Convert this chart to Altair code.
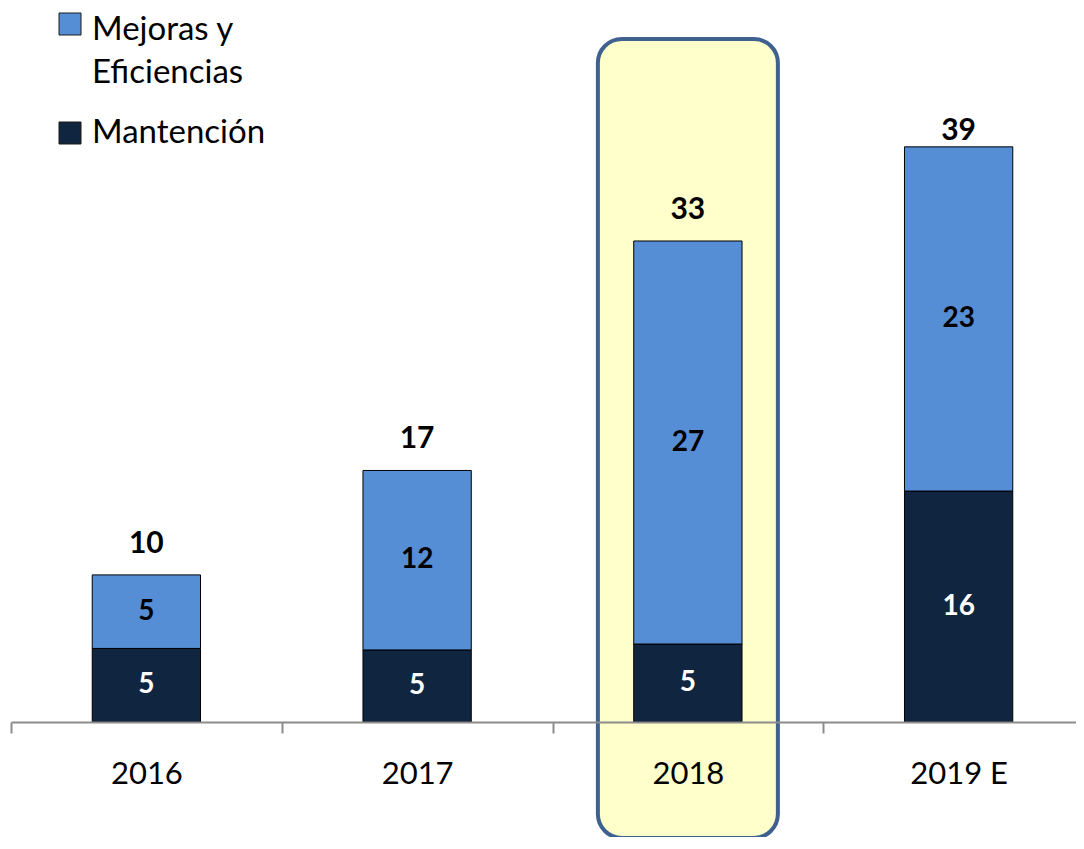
import altair as alt
import pandas as pd

# ---- data ----
years = ["2016", "2017", "2018", "2019 E"]
mantencion = [5.0, 4.9, 5.3, 15.7]
mejoras = [5.0, 12.2, 27.4, 23.4]
series = ["Mantención", "Mejoras y Eficiencias"]
legend_lines = [["Mejoras y", "Eficiencias"], ["Mantención"]]
highlight_years = ["2018"]

bar_colors = ["#10253F", "#558ED5"]
label_colors = ["#FFFFFF", "#000000"]

rows = []
for i, yr in enumerate(years):
    base = 0.0
    for s, vals in zip(series, [mantencion, mejoras]):
        v = vals[i]
        rows.append(dict(year=yr, serie=s, value=v, y0=base, y1=base + v, mid=base + v / 2))
        base += v
df = pd.DataFrame(rows)
totals = pd.DataFrame({"year": years, "total": [a + b for a, b in zip(mantencion, mejoras)]})
hl = pd.DataFrame({"year": highlight_years})
leg = pd.DataFrame({"serie": series})

FONT = "Lato"
YMAX = 46.5
xscale = alt.Scale(domain=years, paddingInner=0, paddingOuter=0, range=[0, 1083])
yscale = alt.Scale(domain=[0, YMAX], nice=False, zero=True)

xaxis = alt.Axis(
    title=None, labelAngle=0, labelFont=FONT, labelFontSize=31, labelColor="#000000",
    labelBaseline="alphabetic", labelPadding=50,
    tickBand="extent", tickSize=11, tickColor="#8C8C8C", tickWidth=2,
    domainColor="#8C8C8C", domainWidth=2, grid=False, zindex=1,
)

X = alt.X("year:N", sort=years, scale=xscale, axis=xaxis)

box = alt.Chart(hl).mark_bar(
    width=180, cornerRadius=24, fill="#FFFFCC", stroke="#3E6190", strokeWidth=4
).encode(x=X, y=alt.value(1), y2=alt.value(800))

bars = alt.Chart(df).mark_bar(
    width=alt.RelativeBandSize(0.4), stroke="#000000", strokeWidth=1
).encode(
    x=X,
    y=alt.Y("y0:Q", scale=yscale, axis=None),
    y2="y1:Q",
    color=alt.Color("serie:N", scale=alt.Scale(domain=series, range=bar_colors), legend=None),
)

inner = alt.Chart(df).mark_text(
    font=FONT, fontSize=28, fontWeight="bold", baseline="middle"
).encode(
    x=X,
    y=alt.Y("mid:Q", scale=yscale, axis=None),
    text=alt.Text("value:Q", format=".0f"),
    color=alt.Color("serie:N", scale=alt.Scale(domain=series, range=label_colors), legend=None),
)

# total labels sit above the bar, but are kept inside the plot area (as in the original)
tot = alt.Chart(totals).transform_calculate(
    ly="min(datum.total + 1.5, 39.55)"
).mark_text(
    font=FONT, fontSize=30, fontWeight="bold", baseline="alphabetic", color="#000000"
).encode(
    x=X,
    y=alt.Y("ly:Q", scale=yscale, axis=None),
    text=alt.Text("total:Q", format=".0f"),
)

legend_layers = []
sq_y = [-14, 95]
tx_y = [2, 105]
for s, lines, sy, ty in zip(reversed(series), legend_lines, sq_y, tx_y):
    legend_layers.append(
        alt.Chart(leg).transform_filter(alt.datum.serie == s).mark_square(
            size=484, stroke="#1a1a1a", strokeWidth=1, opacity=1
        ).encode(
            x=alt.value(59), y=alt.value(sy),
            color=alt.Color("serie:N", scale=alt.Scale(domain=series, range=bar_colors), legend=None),
        )
    )
    legend_layers.append(
        alt.Chart(leg).transform_filter(alt.datum.serie == s).mark_text(
            font=FONT, fontSize=33, align="left", baseline="alphabetic", lineHeight=43, color="#000000"
        ).encode(x=alt.value(81), y=alt.value(ty), text=alt.value(lines))
    )

chart = alt.layer(box, bars, inner, tot, *legend_layers).resolve_scale(
    color="independent"
).properties(
    width=1065, height=684,
    autosize=alt.AutoSizeParams(type="none"),
    padding={"left": 3, "top": 30, "right": 0, "bottom": 115},
    background="#FFFFFF",
).configure_view(stroke=None)

chart.save("out.html", embed_options={"renderer": "svg", "actions": False})
